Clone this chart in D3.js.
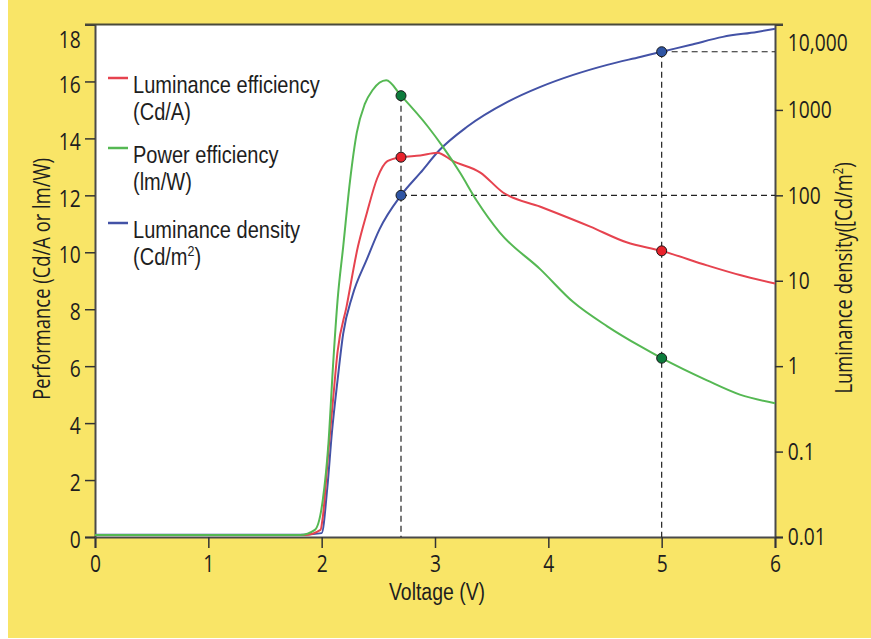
<!DOCTYPE html>
<html>
<head>
<meta charset="utf-8">
<script src="https://cdn.jsdelivr.net/npm/d3@7"></script>
<style>
  body { margin: 0; background: #fff; }
  text { font-family: "Open Sans", sans-serif; fill: #1e1e1e; }
</style>
</head>
<body>
<div id="chart"></div>
<script>
// size of the picture
var width = 871,
    height = 639;

// luminance efficiency (Cd/A) - left axis
var effVolt = [0, 1.85, 1.99, 2.01, 2.06, 2.10, 2.14, 2.22, 2.32, 2.40, 2.49, 2.58, 2.70, 2.87, 3.02, 3.16, 3.40, 3.60, 3.93, 4.37, 4.69, 5.0, 5.40, 5.69, 6.0];
var effVals = [0.07, 0.07, 0.25, 0.7, 3.05, 4.8, 6.5, 8.1, 10.2, 11.4, 12.6, 13.2, 13.34, 13.4, 13.5, 13.2, 12.8, 12.1, 11.6, 10.9, 10.35, 10.05, 9.54, 9.2, 8.9];

// power efficiency (lm/W) - left axis
var powVolt = [0, 1.81, 1.94, 2.01, 2.06, 2.10, 2.14, 2.19, 2.25, 2.31, 2.38, 2.45, 2.57, 2.70, 2.94, 3.07, 3.22, 3.37, 3.57, 3.93, 4.22, 4.52, 4.81, 5.0, 5.40, 5.69, 6.0];
var powVals = [0.07, 0.07, 0.25, 1.3, 3.3, 6.0, 8.3, 10.2, 12.5, 14.2, 15.2, 15.7, 16.04, 15.5, 14.4, 13.7, 12.8, 11.8, 10.7, 9.4, 8.25, 7.4, 6.7, 6.28, 5.5, 5.0, 4.7];

// luminance density (Cd/m2) - right log axis
var lumVolt = [0, 1.81, 2.00, 2.05, 2.09, 2.14, 2.19, 2.27, 2.40, 2.51, 2.70, 2.87, 3.04, 3.28, 3.64, 3.93, 4.22, 4.52, 4.81, 5.0, 5.25, 5.54, 5.84, 6.0];
var lumVals = [0.0106, 0.0106, 0.0111, 0.038, 0.165, 0.68, 2.4, 6.6, 18, 40, 100, 183, 339, 630, 1240, 1860, 2570, 3370, 4170, 4800, 5750, 7160, 8190, 8900];

// marked points (dots with dashed guide lines)
var markVolt = [2.7, 5];
var markEff = [13.34, 10.05];
var markPow = [15.5, 6.28];
var markLum = [100, 4800];

// ticks
var xTicks = [0, 1, 2, 3, 4, 5, 6];
var leftTicks = [0, 2, 4, 6, 8, 10, 12, 14, 16, 18];
var rightTicks = [0.01, 0.1, 1, 10, 100, 1000, 10000];
var rightTickLabels = ["0.01", "0.1", "1", "10", "100", "1000", "10,000"];

var colors = { eff: "#e6434f", pow: "#55b853", lum: "#4352a6" };
var dotColors = { eff: "#e8222b", pow: "#0c7b3c", lum: "#2f55a4" };

var svg = d3.select("#chart")
            .append("svg")
            .attr("width", width)
            .attr("height", height);

// yellow panel
svg.append("rect")
   .attr("x", 8).attr("y", 0)
   .attr("width", width - 8).attr("height", 638)
   .attr("fill", "#f9e567");

var x = d3.scaleLinear().domain([0, 6]).range([95, 775]);
var yL = d3.scaleLinear().domain([0, 18]).range([537, 24.5]);
var yR = d3.scaleLog().domain([0.01, 10000]).range([537, 24.5]);

// plot area
svg.append("rect")
   .attr("x", 95).attr("y", 24.5)
   .attr("width", 680).attr("height", 512.5)
   .attr("fill", "#fff");

// text squeezed horizontally like the condensed font of the original
var sx = 0.8;

function squeeze(sel) {
  sel.style("font-size", "24px")
     .attr("transform", "scale(" + sx + ",1)");
}

// axes
var gx = svg.append("g")
  .attr("transform", "translate(0,537)")
  .call(d3.axisBottom(x).tickValues(xTicks).tickSize(11).tickPadding(7).tickFormat(d3.format("d")));

var gl = svg.append("g")
  .attr("transform", "translate(95,0)")
  .call(d3.axisLeft(yL).tickValues(leftTicks).tickSize(10).tickPadding(8));

var gr = svg.append("g")
  .attr("transform", "translate(775,0)")
  .call(d3.axisRight(yR).tickValues(rightTicks).tickSize(8).tickPadding(8)
          .tickFormat(function(d, i) { return rightTickLabels[i]; }));

[gx, gl, gr].forEach(function(g) {
  g.select(".domain").attr("stroke", "#4a4a4a").attr("stroke-width", 2);
  g.selectAll(".tick line").attr("stroke", "#333").attr("stroke-width", 1.5);
  g.selectAll(".tick text").call(squeeze).attr("fill", "#1e1e1e");
});
gl.selectAll(".tick text").attr("y", function(d) { return d === 18 ? 15 : 3; });
gr.selectAll(".tick text").attr("y", function(d) { return d === 10000 ? 18 : 0; });

// top border of the frame
svg.append("line")
   .attr("x1", 85).attr("x2", 783)
   .attr("y1", 24.5).attr("y2", 24.5)
   .attr("stroke", "#4a4a3a").attr("stroke-width", 2);

// dashed guides
var dash = svg.append("g")
  .attr("stroke", "#222").attr("stroke-width", 1.2)
  .attr("stroke-dasharray", "6,4").attr("fill", "none");

dash.append("line")
  .attr("x1", x(markVolt[0])).attr("x2", x(markVolt[0]))
  .attr("y1", yL(markPow[0])).attr("y2", 537);
dash.append("line")
  .attr("x1", x(markVolt[1])).attr("x2", x(markVolt[1]))
  .attr("y1", yR(markLum[1])).attr("y2", 537);
markVolt.forEach(function(v, i) {
  dash.append("line")
    .attr("x1", x(v)).attr("x2", 775)
    .attr("y1", yR(markLum[i])).attr("y2", yR(markLum[i]));
});

// curves
function curve(xs, ys, yScale, color) {
  var pts = xs.map(function(v, i) { return [v, ys[i]]; });
  svg.append("path")
     .datum(pts)
     .attr("fill", "none")
     .attr("stroke", color)
     .attr("stroke-width", 2)
     .attr("d", d3.line()
                  .curve(d3.curveMonotoneX)
                  .x(function(d) { return x(d[0]); })
                  .y(function(d) { return yScale(d[1]); }));
}
curve(lumVolt, lumVals, yR, colors.lum);
curve(effVolt, effVals, yL, colors.eff);
curve(powVolt, powVals, yL, colors.pow);

// dots
function dots(vals, yScale, color) {
  svg.selectAll(null)
     .data(markVolt)
     .enter()
     .append("circle")
     .attr("cx", function(d) { return x(d); })
     .attr("cy", function(d, i) { return yScale(vals[i]); })
     .attr("r", 5)
     .attr("fill", color)
     .attr("stroke", "#1a1a1a")
     .attr("stroke-width", 1);
}
dots(markPow, yL, dotColors.pow);
dots(markEff, yL, dotColors.eff);
dots(markLum, yR, dotColors.lum);

// legend - Liberation Sans has a shorter line box, so the tight
// two-line entries don't run into each other
var legend = [
  { color: colors.eff, y: 78, l1: "Luminance efficiency", l2: "(Cd/A)" },
  { color: colors.pow, y: 148, l1: "Power efficiency", l2: "(lm/W)" },
  { color: colors.lum, y: 223, l1: "Luminance density", l2: "(Cd/m" }
];
legend.forEach(function(e, i) {
  svg.append("line")
     .attr("x1", 108).attr("x2", 128)
     .attr("y1", e.y).attr("y2", e.y)
     .attr("stroke", e.color).attr("stroke-width", 2.5);
  var t = svg.append("text")
     .attr("transform", "translate(133," + (e.y + 15) + ") scale(0.835,1)")
     .style("font-family", "'Liberation Sans', Arial, sans-serif")
     .style("font-size", "24px");
  t.append("tspan").attr("x", 0).attr("y", 0).text(e.l1);
  t.append("tspan").attr("x", 0).attr("y", 27).text(e.l2);
  if (i === 2) {
    t.append("tspan").attr("dy", -9).style("font-size", "15px").text("2");
    t.append("tspan").attr("dy", 9).text(")");
  }
});

// axis titles
svg.append("text")
   .attr("transform", "translate(437,600) scale(0.81,1)")
   .attr("text-anchor", "middle")
   .style("font-family", "'Liberation Sans', Arial, sans-serif")
   .style("font-size", "24px")
   .text("Voltage (V)");

svg.append("text")
   .attr("transform", "translate(50,279) rotate(-90) scale(0.8,1)")
   .attr("text-anchor", "middle")
   .style("font-size", "23px")
   .text("Performance (Cd/A or lm/W)");

var rt = svg.append("text")
   .attr("transform", "translate(852,278) rotate(-90) scale(0.8,1)")
   .attr("text-anchor", "middle")
   .style("font-size", "23px")
   .text("Luminance density([Cd/m");
rt.append("tspan").attr("dy", -9).style("font-size", "14px").text("2");
rt.append("tspan").attr("dy", 9).text(")");
</script>
</body>
</html>
